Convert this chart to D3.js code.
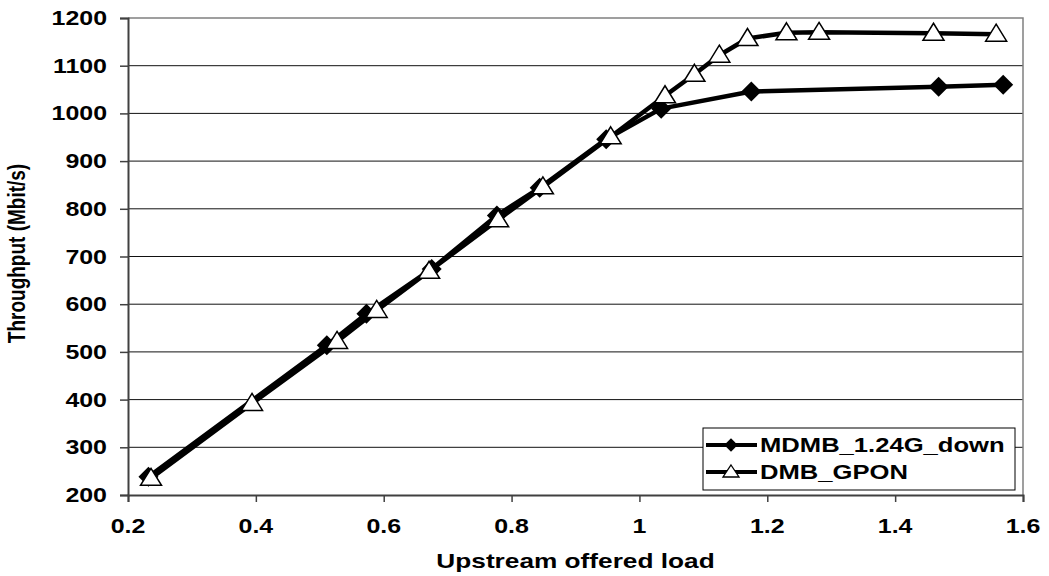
<!DOCTYPE html>
<html>
<head>
<meta charset="utf-8">
<script src="https://cdn.jsdelivr.net/npm/d3@7"></script>
<style>
  body { margin: 0; background: #fff; }
  text { font-family: "Liberation Sans", Arial, sans-serif; font-weight: bold; fill: #000; }
</style>
</head>
<body>
<svg id="chart" width="1049" height="576"></svg>
<script>
// series: [offered load, throughput]
const mdmbDown = [
    [0.232, 238], [0.511, 514], [0.573, 580], [0.675, 674], [0.777, 786],
    [0.844, 844], [0.948, 946], [1.034, 1010], [1.175, 1046], [1.468, 1056], [1.569, 1060]
];
const dmbGpon = [
    [0.236, 235], [0.394, 392], [0.527, 522], [0.589, 587], [0.671, 669],
    [0.779, 777], [0.849, 846], [0.955, 951], [1.04, 1037], [1.086, 1082],
    [1.125, 1122], [1.169, 1157], [1.23, 1169], [1.281, 1170], [1.46, 1168], [1.558, 1166]
];
const seriesNames = ['MDMB_1.24G_down', 'DMB_GPON'];
const xTicks = [0.2, 0.4, 0.6, 0.8, 1, 1.2, 1.4, 1.6];
const yTicks = [200, 300, 400, 500, 600, 700, 800, 900, 1000, 1100, 1200];
const xTitle = 'Upstream offered load';
const yTitle = 'Throughput (Mbit/s)';

const svg = d3.select('#chart');
const plot = {left: 128, right: 1023, top: 18, bottom: 495};
const sx = 1.28;          // the original text is stretched sideways
const fontSize = 19.5;

const x = d3.scaleLinear().domain([0.2, 1.6]).range([plot.left, plot.right]);
const y = d3.scaleLinear().domain([200, 1200]).range([plot.bottom, plot.top]);

function label(g, str, px, py, anchor, size) {
    return g.append('text')
        .attr('transform', `translate(${px},${py}) scale(${sx},1)`)
        .attr('text-anchor', anchor)
        .attr('font-size', size || fontSize)
        .text(str);
}

// grid lines
svg.append('g').selectAll('line')
    .data(yTicks.filter(d => d !== 200 && d !== 1200))
    .join('line')
    .attr('x1', plot.left).attr('x2', plot.right)
    .attr('y1', d => y(d)).attr('y2', d => y(d))
    .attr('stroke', '#111').attr('stroke-width', 1);

// top and right border
svg.append('path')
    .attr('d', `M${plot.left},${plot.top}H${plot.right}V${plot.bottom}`)
    .attr('fill', 'none').attr('stroke', '#808080').attr('stroke-width', 1.5);

// axes
let yAxis = svg.append('g')
    .attr('transform', `translate(${plot.left},0)`)
    .call(d3.axisLeft(y).tickValues(yTicks).tickSize(8).tickFormat(''));
let xAxis = svg.append('g')
    .attr('transform', `translate(0,${plot.bottom})`)
    .call(d3.axisBottom(x).tickValues(xTicks).tickSize(7).tickFormat(''));
[yAxis, xAxis].forEach(a => {
    a.select('.domain').attr('stroke', '#404040').attr('stroke-width', 2);
    a.selectAll('.tick line').attr('stroke', '#404040').attr('stroke-width', 1.5);
});

let labels = svg.append('g');
yTicks.forEach(d => label(labels, d, 107, y(d) + 7, 'end'));
xTicks.forEach(d => label(labels, d, x(d), 533, 'middle'));

label(labels, xTitle, (plot.left + plot.right) / 2, 568, 'middle', 20.5);
labels.append('text')
    .attr('transform', `translate(25,${(plot.top + plot.bottom) / 2 - 3}) rotate(-90) scale(1,${sx})`)
    .attr('text-anchor', 'middle')
    .attr('font-size', 19)
    .text(yTitle);

// series
const line = d3.line().x(d => x(d[0])).y(d => y(d[1]));
const diamond = d3.symbol().type(d3.symbolSquare).size(200);
const triangle = 'M0,-10L10.5,7L-10.5,7Z';

function drawSeries(data, kind) {
    let g = svg.append('g');
    g.append('path')
        .datum(data)
        .attr('d', line)
        .attr('fill', 'none')
        .attr('stroke', '#000')
        .attr('stroke-width', 4.5)
        .attr('stroke-linejoin', 'round');
    let marks = g.selectAll('path.mark')
        .data(data)
        .join('path')
        .attr('class', 'mark');
    if (kind === 'diamond') {
        marks.attr('d', diamond)
            .attr('transform', d => `translate(${x(d[0])},${y(d[1])}) rotate(45)`)
            .attr('fill', '#000');
    } else {
        marks.attr('d', triangle)
            .attr('transform', d => `translate(${x(d[0])},${y(d[1])})`)
            .attr('fill', '#fff').attr('stroke', '#000').attr('stroke-width', 1.5);
    }
}
drawSeries(mdmbDown, 'diamond');
drawSeries(dmbGpon, 'triangle');

// legend
let legend = svg.append('g');
legend.append('rect')
    .attr('x', 703).attr('y', 428).attr('width', 312).attr('height', 62)
    .attr('fill', '#fff').attr('stroke', '#000').attr('stroke-width', 1);
seriesNames.forEach((name, i) => {
    let ly = 445 + i * 27;
    legend.append('line')
        .attr('x1', 706).attr('x2', 757).attr('y1', ly).attr('y2', ly)
        .attr('stroke', '#000').attr('stroke-width', 4);
    if (i === 0) {
        legend.append('path')
            .attr('d', d3.symbol().type(d3.symbolSquare).size(90))
            .attr('transform', `translate(731,${ly}) rotate(45)`)
            .attr('fill', '#000');
    } else {
        legend.append('path')
            .attr('d', 'M0,-7L8,5L-8,5Z')
            .attr('transform', `translate(731,${ly})`)
            .attr('fill', '#fff').attr('stroke', '#000').attr('stroke-width', 1.3);
    }
    label(legend, name, 760, ly + 7, 'start', 20);
});
</script>
</body>
</html>
